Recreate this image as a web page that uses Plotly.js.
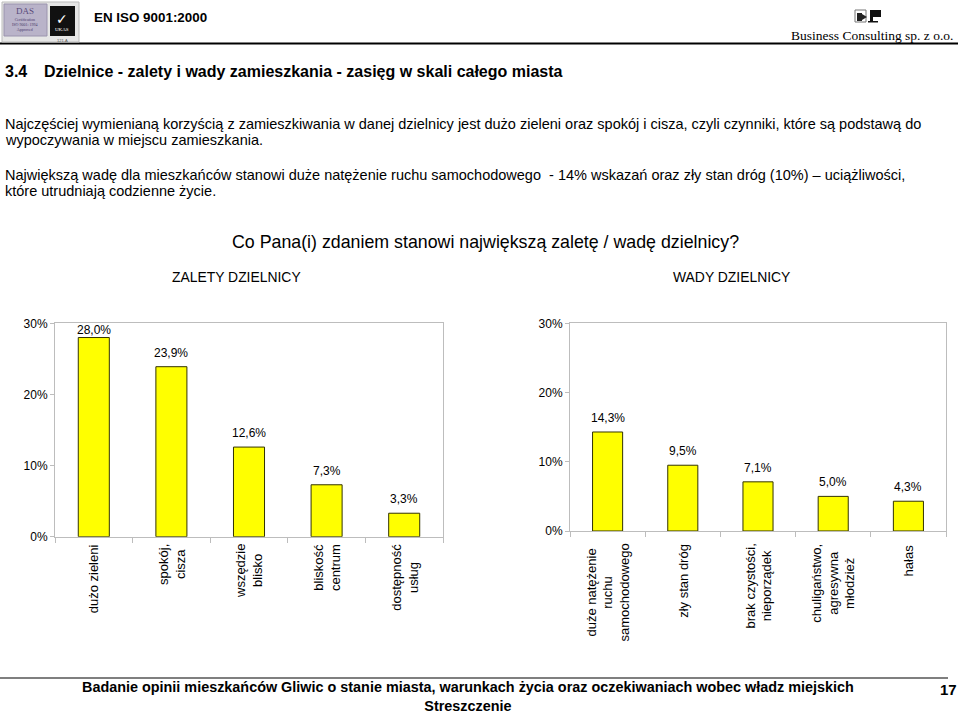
<!DOCTYPE html>
<html>
<head>
<meta charset="utf-8">
<script src="https://cdn.plot.ly/plotly-3.0.1.min.js"></script>
<style>
  html, body { margin: 0; padding: 0; background: #ffffff; }
  #chart { width: 960px; height: 714px; }
</style>
</head>
<body>
<div id="chart"></div>
<script>
// ---- data ----
const zaletyCategories = ['dużo zieleni', 'spokój, cisza', 'wszędzie blisko', 'bliskość centrum', 'dostępność usług'];
const zaletyTickLabels = ['dużo zieleni', 'spokój,<br>cisza', 'wszędzie<br>blisko', 'bliskość<br>centrum', 'dostępność<br>usług'];
const zaletyValues = [28.0, 23.9, 12.6, 7.3, 3.3];

const wadyCategories = ['duże natężenie ruchu samochodowego', 'zły stan dróg', 'brak czystości, nieporządek', 'chuligaństwo, agresywna młodzież', 'hałas'];
const wadyTickLabels = ['duże natężenie<br>ruchu<br>samochodowego', 'zły stan dróg', 'brak czystości,<br>nieporządek', 'chuligaństwo,<br>agresywna<br>młodzież', 'hałas'];
const wadyValues = [14.3, 9.5, 7.1, 5.0, 4.3];

const yTickValues = [0, 10, 20, 30];

// ---- layout helpers ----
const W = 960, H = 714;
const px = y => 1 - y / H;
const FONT = 'Liberation Sans, Arial, sans-serif';
const AXIS_COL = '#bdbdbd';

const leftPlot = {x0: 55, x1: 443, yTop: 323.3, yBot: 536.7};
const rightPlot = {x0: 570, x1: 946, yTop: 323.3, yBot: 531};

function fmt(v) { return v.toFixed(1).replace('.', ',') + '%'; }

const traces = [
  {type: 'bar', x: zaletyCategories, y: zaletyValues, xaxis: 'x', yaxis: 'y',
   marker: {color: '#ffff00', line: {color: '#333300', width: 1}}, hoverinfo: 'skip'},
  {type: 'bar', x: wadyCategories, y: wadyValues, xaxis: 'x2', yaxis: 'y2',
   marker: {color: '#ffff00', line: {color: '#333300', width: 1}}, hoverinfo: 'skip'}
];

function xAxis(p) {
  return {domain: [p.x0 / W, p.x1 / W], type: 'category', showline: true, linecolor: AXIS_COL,
    linewidth: 1, mirror: true, ticks: 'outside', tickson: 'boundaries', ticklen: 5,
    tickcolor: AXIS_COL, showticklabels: false, showgrid: false, fixedrange: true};
}
function yAxis(p) {
  return {domain: [px(p.yBot), px(p.yTop)], range: [0, 30], tickvals: yTickValues,
    ticktext: yTickValues.map(v => v + '%'), ticks: 'outside', ticklen: 4, tickcolor: AXIS_COL,
    showline: true, linecolor: AXIS_COL, mirror: true, showgrid: false, zeroline: false,
    tickfont: {family: FONT, size: 12, color: '#000'}, fixedrange: true};
}

const annotations = [];
function addChartAnnotations(cats, labels, vals, xref, yref, p) {
  const hp = p.yBot - p.yTop;
  cats.forEach((c, i) => {
    const v = vals[i];
    const space = (30 - v) / 30 * hp;
    annotations.push({xref: xref, yref: yref, x: c, y: v, text: fmt(v), showarrow: false,
      yanchor: 'middle', yshift: Math.min(14, space - 7),
      font: {family: FONT, size: 12, color: '#000'}});
    annotations.push({xref: xref, yref: 'paper', x: c, y: px(542), text: labels[i], showarrow: false,
      textangle: -90, yanchor: 'top', xanchor: 'center', align: 'center',
      font: {family: FONT, size: 13, color: '#000'}});
  });
}
addChartAnnotations(zaletyCategories, zaletyTickLabels, zaletyValues, 'x', 'y', leftPlot);
addChartAnnotations(wadyCategories, wadyTickLabels, wadyValues, 'x2', 'y2', rightPlot);

function txt(text, x, y, size, opts) {
  return Object.assign({xref: 'paper', yref: 'paper', x: x / W, y: px(y), text: text,
    showarrow: false, xanchor: 'left', yanchor: 'middle',
    font: {family: FONT, size: size, color: '#000'}}, opts || {});
}

// page texts
annotations.push(txt('<b>EN ISO 9001:2000</b>', 92, 17, 13.4));
annotations.push(txt('Business Consulting sp. z o.o.', 955, 35.5, 13.5,
  {xanchor: 'right', font: {family: 'Liberation Serif, Times New Roman, serif', size: 13.5, color: '#000'}}));
annotations.push(txt('<b>3.4</b>', 3, 72, 16));
annotations.push(txt('<b>Dzielnice - zalety i wady zamieszkania - zasięg w skali całego miasta</b>', 42, 72, 16));
annotations.push(txt('Najczęściej wymienianą korzyścią z zamieszkiwania w danej dzielnicy jest dużo zieleni oraz spokój i cisza, czyli czynniki, które są podstawą do', 3, 123.5, 14.5));
annotations.push(txt('wypoczywania w miejscu zamieszkania.', 3, 140, 14.5));
annotations.push(txt('Największą wadę dla mieszkańców stanowi duże natężenie ruchu samochodowego  - 14% wskazań oraz zły stan dróg (10%) – uciążliwości,', 3, 174.5, 14.5));
annotations.push(txt('które utrudniają codzienne życie.', 3, 191, 14.5));
annotations.push(txt('Co Pana(i) zdaniem stanowi największą zaletę / wadę dzielnicy?', 485, 242, 17.8, {xanchor: 'center'}));
annotations.push(txt('ZALETY DZIELNICY', 236, 277, 13.9, {xanchor: 'center'}));
annotations.push(txt('WADY DZIELNICY', 731, 277, 13.9, {xanchor: 'center'}));
annotations.push(txt('<b>Badanie opinii mieszkańców Gliwic o stanie miasta, warunkach życia oraz oczekiwaniach wobec władz miejskich</b><br><b>Streszczenie</b>', 468, 696, 14.4, {xanchor: 'center', align: 'center', borderpad: 0}));
annotations.push(txt('<b>17</b>', 948, 689, 15, {xanchor: 'center'}));

// logo texts
annotations.push(txt('DAS', 25, 11, 9, {xanchor: 'center', font: {family: 'Liberation Serif, serif', size: 9, color: '#5a4a7a'}}));
annotations.push(txt('Certification<br>ISO 9001: 1994<br>Approved', 25, 25, 4, {xanchor: 'center', font: {family: 'Liberation Serif, serif', size: 4, color: '#4a3a6a'}}));
annotations.push(txt('✓', 62, 19, 14, {xanchor: 'center', font: {family: 'DejaVu Sans, sans-serif', size: 14, color: '#fff'}}));
annotations.push(txt('UKAS', 62, 30, 5, {xanchor: 'center', font: {family: 'Liberation Serif, serif', size: 5, color: '#fff'}}));
annotations.push(txt('121-A', 62, 40, 4, {xanchor: 'center', font: {family: 'Liberation Sans, sans-serif', size: 4, color: '#555'}}));

function rect(x0, y0, x1, y1, fill, line, lw) {
  return {type: 'rect', xref: 'paper', yref: 'paper', x0: x0 / W, x1: x1 / W, y0: px(y1), y1: px(y0),
    fillcolor: fill, line: {color: line || fill, width: lw === undefined ? 0 : lw}, layer: 'above'};
}
function hline(x0, x1, y, w, col) {
  return {type: 'line', xref: 'paper', yref: 'paper', x0: x0 / W, x1: x1 / W, y0: px(y), y1: px(y),
    line: {color: col, width: w}};
}

const shapes = [
  hline(0, 958, 43.5, 2, '#000'),
  hline(0, 948, 678, 1.5, '#555'),
  // DAS / UKAS logo
  rect(2, 2, 79, 42, '#e6e6e6', '#bbbbbb', 1),
  rect(4, 4, 47, 36, '#b9b3c9', '#9a93ad', 1),
  rect(50, 6, 75, 36, '#111111'),
  // BC logo
  rect(855, 10, 866, 22, '#ffffff', '#777777', 1),
  rect(857, 13, 862, 21, '#222222'),
  {type: 'path', xref: 'paper', yref: 'paper', layer: 'above',
   path: `M ${862/W} ${px(14)} L ${867/W} ${px(17)} L ${862/W} ${px(20)} Z`, fillcolor: '#222', line: {width: 0}},
  rect(870, 10, 881, 17, '#111111'),
  rect(870, 10, 873, 22, '#111111'),
  rect(868, 21, 878, 22.5, '#111111')
];

const layout = {
  width: W, height: H, margin: {l: 0, r: 0, t: 0, b: 0},
  paper_bgcolor: '#ffffff', plot_bgcolor: '#ffffff',
  showlegend: false, bargap: 0.6,
  font: {family: FONT, size: 12, color: '#000'},
  xaxis: Object.assign(xAxis(leftPlot), {anchor: 'y'}),
  yaxis: Object.assign(yAxis(leftPlot), {anchor: 'x'}),
  xaxis2: Object.assign(xAxis(rightPlot), {anchor: 'y2'}),
  yaxis2: Object.assign(yAxis(rightPlot), {anchor: 'x2'}),
  annotations: annotations,
  shapes: shapes
};

Plotly.newPlot('chart', traces, layout, {staticPlot: true, displayModeBar: false});
</script>
</body>
</html>
